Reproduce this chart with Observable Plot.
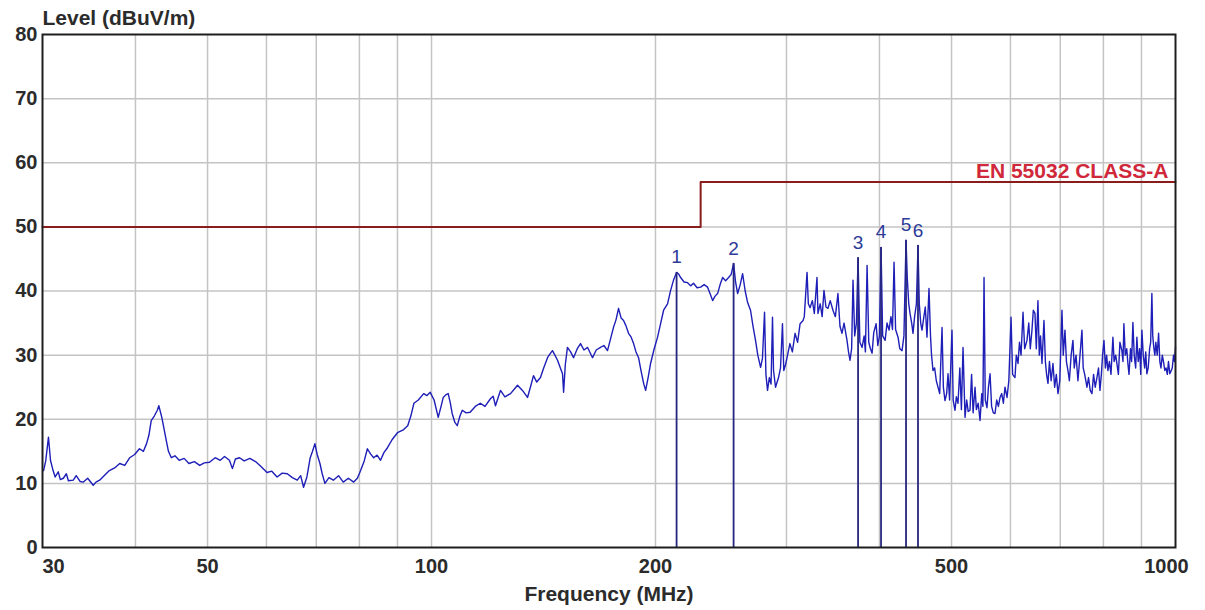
<!DOCTYPE html>
<html>
<head>
<meta charset="utf-8">
<script src="https://cdn.jsdelivr.net/npm/d3@7"></script>
<script src="https://cdn.jsdelivr.net/npm/@observablehq/plot@0.6"></script>
<style>
  html, body { margin: 0; padding: 0; background: #fff; }
  #chart { width: 1205px; height: 610px; }
</style>
</head>
<body>
<div id="chart"></div>
<script>
// ---- Data ----
const traceFreq = [
  30.1, 30.3, 30.56, 30.75, 31.0, 31.2, 31.5, 31.7, 32.0, 32.3, 32.5, 33.0, 33.3, 33.7, 34.05,
  34.5, 35.1, 35.4, 35.8, 36.3, 36.9, 37.5, 38.1, 38.7, 39.3, 39.9, 40.5, 41.0, 41.4, 41.7,
  42.0, 42.4, 42.8, 43.0, 43.4, 43.7, 44.0, 44.3, 44.7, 45.2, 45.8, 46.5, 47.2, 48.0, 48.8,
  49.5, 50.3, 51.2, 52.0, 52.7, 53.5, 54.0, 54.5, 55.2, 56.0, 57.0, 58.0, 58.8, 59.5, 60.1,
  61.0, 62.0, 63.0, 64.0, 65.0, 66.0, 66.7, 67.3, 68.0, 68.7, 69.2, 69.7, 70.2, 70.8, 71.3,
  71.9, 72.8, 73.8, 75.0, 76.1, 77.3, 78.6, 79.5, 80.3, 81.2, 82.0, 82.8, 83.6, 84.5, 85.4,
  86.3, 87.3, 88.5, 90.0, 91.5, 92.9, 93.8, 94.7, 96.0, 97.6, 98.6, 99.6, 100.8, 102.1, 103.0,
  103.7, 104.5, 105.3, 106.0, 106.6, 107.5, 108.3, 109.2, 110.0, 111.3, 112.7, 114.5, 116.3, 118.0, 120.0,
  121.0, 121.9, 123.0, 123.8, 125.5, 127.7, 129.0, 130.5, 132.5, 134.6, 135.8, 137.1, 138.5, 140.1, 141.5,
  143.2, 144.3, 145.4, 146.5, 147.7, 149.0, 150.0, 150.5, 151.3, 152.3, 153.8, 155.2, 157.0, 158.6, 160.3,
  162.1, 163.5, 164.6, 166.5, 168.7, 170.5, 172.4, 174.0, 175.6, 177.0, 178.4, 179.8, 181.2, 182.5, 184.0,
  185.5, 186.9, 188.3, 189.8, 191.3, 192.8, 194.0, 195.5, 197.0, 199.0, 201.3, 203.2, 205.1, 207.6, 209.6,
  211.5, 213.5, 215.0, 216.2, 218.5, 220.9, 223.0, 225.0, 227.5, 230.0, 232.5, 235.0, 237.0, 238.7, 240.5,
  242.4, 244.3, 246.2, 248.5, 250.8, 252.8, 254.7, 256.2, 257.9, 260.0, 261.9, 264.0, 266.0,
  268.4, 270.5, 272.6, 274.5, 276.9, 278.5, 280.3, 281.5, 282.9, 284.5, 286, 287.3, 288.2, 290, 292.7,
  294.5, 296.3, 297.5, 299.1, 301, 303.2, 305.5, 308.1, 310.5, 312.9, 315.8, 317, 319.7, 321, 322.7,
  325, 327, 329.7, 330.7, 333, 335, 336.9, 339, 341.1, 343.5, 346.4, 349, 351.8, 354, 356.2,
  358.5, 361.8, 363.5, 365.2, 367, 368.6, 370.5, 372.5, 374.4, 376.5, 379.1, 381.5, 383, 385.0, 387,
  389, 391.0, 393, 395.9, 398, 400, 402.0, 404, 407.1, 409.5, 412.1, 414.5, 416.5, 418.5, 420.5,
  423.7, 426, 429.0, 431.5, 434.3, 436, 438, 439.7, 442, 443.8, 446, 448.5, 450.7, 452.5, 454.5,
  456.3, 459, 461, 463.4, 466.3, 468.5, 470, 472.1, 474.5, 477, 479.5, 482, 485.5, 487.5, 490.0,
  492.5, 494.6, 497, 500.7, 502.5, 505.4, 507.5, 510.1, 513, 515.5, 518.1, 521.3, 524, 526.5, 529.4,
  532, 534.5, 537.7, 540, 543, 546.1, 549, 551, 552.9, 555, 558.0, 560.5, 563.3, 566, 569,
  572.0, 575, 578, 581.0, 584, 587, 590, 593.7, 597, 601.1, 604, 608.5, 611, 614.2, 617,
  620, 623.8, 627, 631.5, 635, 638, 641.3, 644, 647.3, 650, 653.3, 656, 658.5, 661.5, 663.5,
  665.6, 668.5, 671, 673.9, 677, 680.5, 684.4, 688, 691.5, 695.1, 699, 703.7, 706.5, 710.3, 713.5,
  716.9, 720, 724, 728.0, 731, 735, 739.4, 743, 748.6, 751.5, 755, 760.3, 764, 768, 772.2,
  776, 780, 784.2, 788, 791.5, 795, 798, 801.4, 805, 808, 811.3, 815, 819, 823.9, 827,
  831, 834.1, 838, 842, 847.1, 850, 852.4, 856, 860, 863.0, 866, 870, 873, 876.5, 880,
  884, 887.4, 891, 895, 898, 901.2, 905, 909, 912, 915.2, 919, 923, 926, 929.5, 932,
  935, 938.1, 941, 945, 949, 952.7, 956, 960, 963.5, 967.5, 971, 975, 978.5, 982.5, 986,
  990, 994, 997, 1000
];
const traceLevel = [
  12, 13.5, 17.2, 13.6, 12, 11, 11.8, 10.6, 10.8, 11.5, 10.4, 10.5, 11.2, 10.3, 10.2,
  10.8, 9.7, 10.2, 10.5, 11.2, 12, 12.4, 13.1, 12.8, 14, 14.5, 15.4, 15, 16.2, 17.5,
  19.8, 20.5, 21.4, 22.1, 20.3, 18.5, 16.7, 15, 14, 14.3, 13.6, 13.9, 13.1, 13.4, 12.8,
  13.2, 13.3, 14, 13.6, 14.2, 13.6, 12.3, 13.8, 14, 13.5, 13.9, 13.4, 12.8, 12.2, 11.7,
  11.9, 11, 11.6, 11.5, 10.9, 10.5, 11.2, 9.4, 11, 14, 15, 16.2, 14.5, 13.1, 11.5,
  10, 10.9, 10.5, 11.2, 10.2, 10.8, 10.2, 10.8, 12, 13.5, 15.4, 14.6, 14, 14.4, 13.6,
  14.8, 15.6, 16.8, 17.9, 18.3, 19, 20.5, 22.5, 23, 24, 23.7, 24.2, 23, 20.3, 22,
  23.4, 23.8, 24, 22.5, 20.9, 19.5, 19, 20.5, 21.4, 21, 21.1, 22, 22.5, 22, 23.2,
  23.6, 22.1, 23.5, 24.5, 23.5, 24, 24.6, 25.3, 24.5, 23.4, 25, 26.8, 25.8, 26.5, 28,
  29.6, 30.2, 30.7, 30, 29.2, 28, 27.1, 24.2, 28.5, 31.2, 30.5, 29.6, 31, 31.8, 30.8,
  31.2, 30.3, 29.6, 30.8, 31.2, 31.5, 30.7, 32.5, 34.3, 35.5, 37.3, 35.8, 35.4, 34.6, 33.4,
  32.8, 31.8, 30.5, 29.6, 27.5, 25.6, 24.5, 26.5, 28.7, 30.8, 32.8, 34.9, 37, 38, 40.1,
  41.7, 42.9, 42.6, 42.1, 41.4, 41.3, 40.8, 41.2, 40.5, 40.6, 41, 40.6, 39.5, 38.5, 39.2,
  39.6, 41, 42.1, 41.6, 42.1, 42.6, 44.3, 41.5, 39.6, 41, 42.7, 40, 38.2,
  37, 34.5, 32.3, 30, 28.1, 29.5, 36.7, 27, 24.5, 26.5, 25.5, 35.9, 27.6, 25, 26.5,
  28, 34.9, 27.6, 28.5, 30, 31.8, 30.5, 33.4, 32, 34.9, 35.4, 36, 42.9, 38, 37.4,
  38.5, 36.5, 42.1, 36.5, 38, 36, 40.1, 37.5, 37.3, 38.5, 37, 36, 39.6, 34.5, 33.4,
  35, 32.3, 30.5, 29.2, 31, 41.7, 33, 35, 45.2, 32, 31.2, 33, 30.5, 44, 32,
  31, 30.3, 33.5, 34.9, 31.5, 33, 46.8, 33, 32.3, 35, 33.9, 36, 34, 44.5, 34,
  32.8, 31, 30.7, 33, 47.9, 42, 38, 36.5, 35, 33.4, 36, 38, 47.1, 38, 35,
  33.9, 36, 37.5, 32.8, 40.4, 33, 30, 27.6, 28, 26, 25, 24, 34.3, 25, 22.9,
  24, 27.1, 23, 33.9, 23, 21.4, 23.5, 22.5, 28, 21.5, 31.2, 20.3, 23, 21.2, 21.4,
  27, 21, 25, 21.5, 22.5, 19.8, 24, 22, 42.1, 23, 21.8, 25, 27.1, 22, 21,
  20.9, 23, 22, 23.4, 24, 22.5, 25, 23.4, 26, 35.9, 27, 26.5, 30, 28.7, 32,
  30, 36.7, 31, 32.3, 35, 31, 33.9, 37, 36.5, 31, 38.5, 30, 33, 28.7, 32,
  35.4, 29, 27, 25.6, 29, 26, 28.7, 25, 27, 24, 26, 37, 30, 33.9, 29,
  27.6, 26, 30, 32.3, 28, 30, 26, 29, 33.9, 28, 27, 25, 26.5, 24.5, 24,
  27, 25, 26.5, 28, 24.5, 27, 30, 32.3, 28, 30, 27.6, 29, 27, 32.8, 29,
  30, 28.7, 27, 32, 30.7, 29, 34.9, 30, 31, 28.7, 27, 31, 29, 35.1, 30,
  28, 32.8, 29, 31, 27, 33.9, 30, 28, 30.5, 27.1, 28, 31, 32, 39.6, 33,
  31.2, 30, 32, 30, 33.4, 29, 28, 30, 29, 27.6, 28, 27, 29, 27.1, 27.5,
  28, 30, 29, 31.2
];

const limitFreq = [30, 230, 1000];
const limitLevel = [50, 57, 57];
const limitName = "EN 55032 CLASS-A";

const markerFreq = [213.5, 254.7, 374.4, 402.0, 434.3, 450.7];
const markerLevel = [42.9, 44.3, 45.2, 46.8, 47.9, 47.1];
const markerLabel = ["1", "2", "3", "4", "5", "6"];

const xGrid = [40, 50, 60, 70, 80, 90, 100, 200, 300, 400, 500, 600, 700, 800, 900];
const xTickMid = [50, 100, 200, 500];
const xTickFirst = [30];
const xTickLast = [1000];
const yTicks = [0, 10, 20, 30, 40, 50, 60, 70, 80];

// ---- Tables built from the arrays ----
const trace = traceFreq.map((f, i) => ({f, v: traceLevel[i]}));
const limit = limitFreq.map((f, i) => ({f, v: limitLevel[i]}));
const markers = markerFreq.map((f, i) => ({f, v: markerLevel[i], label: markerLabel[i]}));

const FONT = "'Liberation Sans', Arial, Helvetica, sans-serif";
const tickFill = "#2b2b2b";

const chart = Plot.plot({
  width: 1205,
  height: 610,
  marginLeft: 42,
  marginRight: 30,
  marginTop: 34,
  marginBottom: 63,
  x: {type: "log", domain: [30, 1000], axis: null},
  y: {domain: [0, 80], axis: null},
  style: {fontFamily: FONT, background: "#fff", overflow: "visible"},
  marks: [
    Plot.ruleX(xGrid, {x: d => d, stroke: "#c4c4c4", strokeWidth: 1.5}),
    Plot.ruleY(yTicks.filter(d => d > 0 && d < 80), {y: d => d, stroke: "#c4c4c4", strokeWidth: 1.5}),
    Plot.line(limit, {x: "f", y: "v", curve: "step-after", stroke: "#8b1c1c", strokeWidth: 2}),
    Plot.text([limitName], {x: () => 1000, y: () => 57, text: d => d, textAnchor: "end", dx: -7, dy: -11,
      fill: "#d0283a", fontSize: 21, fontWeight: "bold"}),
    Plot.line(trace, {x: "f", y: "v", stroke: "#1e1eb8", strokeWidth: 1.4}),
    Plot.ruleX(markers, {x: "f", y1: 0, y2: "v", stroke: "#262680", strokeWidth: 1.8}),
    Plot.text(markers, {x: "f", y: "v", text: "label", dy: -15, fill: "#2c3a98", fontSize: 19}),
    Plot.frame({stroke: "#1e1e1e", strokeWidth: 2}),
    // y tick labels
    Plot.text(yTicks, {y: d => d, text: d => String(d), frameAnchor: "left", textAnchor: "end", dx: -5,
      lineAnchor: "middle", fill: tickFill, fontSize: 20, fontWeight: "bold"}),
    // x tick labels
    Plot.text(xTickMid, {x: d => d, text: d => String(d), frameAnchor: "bottom", lineAnchor: "middle", dy: 19,
      fill: tickFill, fontSize: 20, fontWeight: "bold"}),
    Plot.text(xTickFirst, {x: d => d, text: d => String(d), frameAnchor: "bottom", lineAnchor: "middle",
      textAnchor: "start", dy: 19, fill: tickFill, fontSize: 20, fontWeight: "bold"}),
    Plot.text(xTickLast, {x: d => d, text: d => String(d), frameAnchor: "bottom", lineAnchor: "middle",
      dy: 19, dx: -9, fill: tickFill, fontSize: 20, fontWeight: "bold"}),
    // axis titles
    Plot.text(["Level (dBuV/m)"], {frameAnchor: "top-left", lineAnchor: "middle", text: d => d,
      textAnchor: "start", dy: -16, fill: tickFill, fontSize: 21, fontWeight: "bold"}),
    Plot.text(["Frequency (MHz)"], {frameAnchor: "bottom", lineAnchor: "middle", text: d => d, dy: 47,
      fill: tickFill, fontSize: 21, fontWeight: "bold"})
  ]
});

document.getElementById("chart").appendChild(chart);
</script>
</body>
</html>
